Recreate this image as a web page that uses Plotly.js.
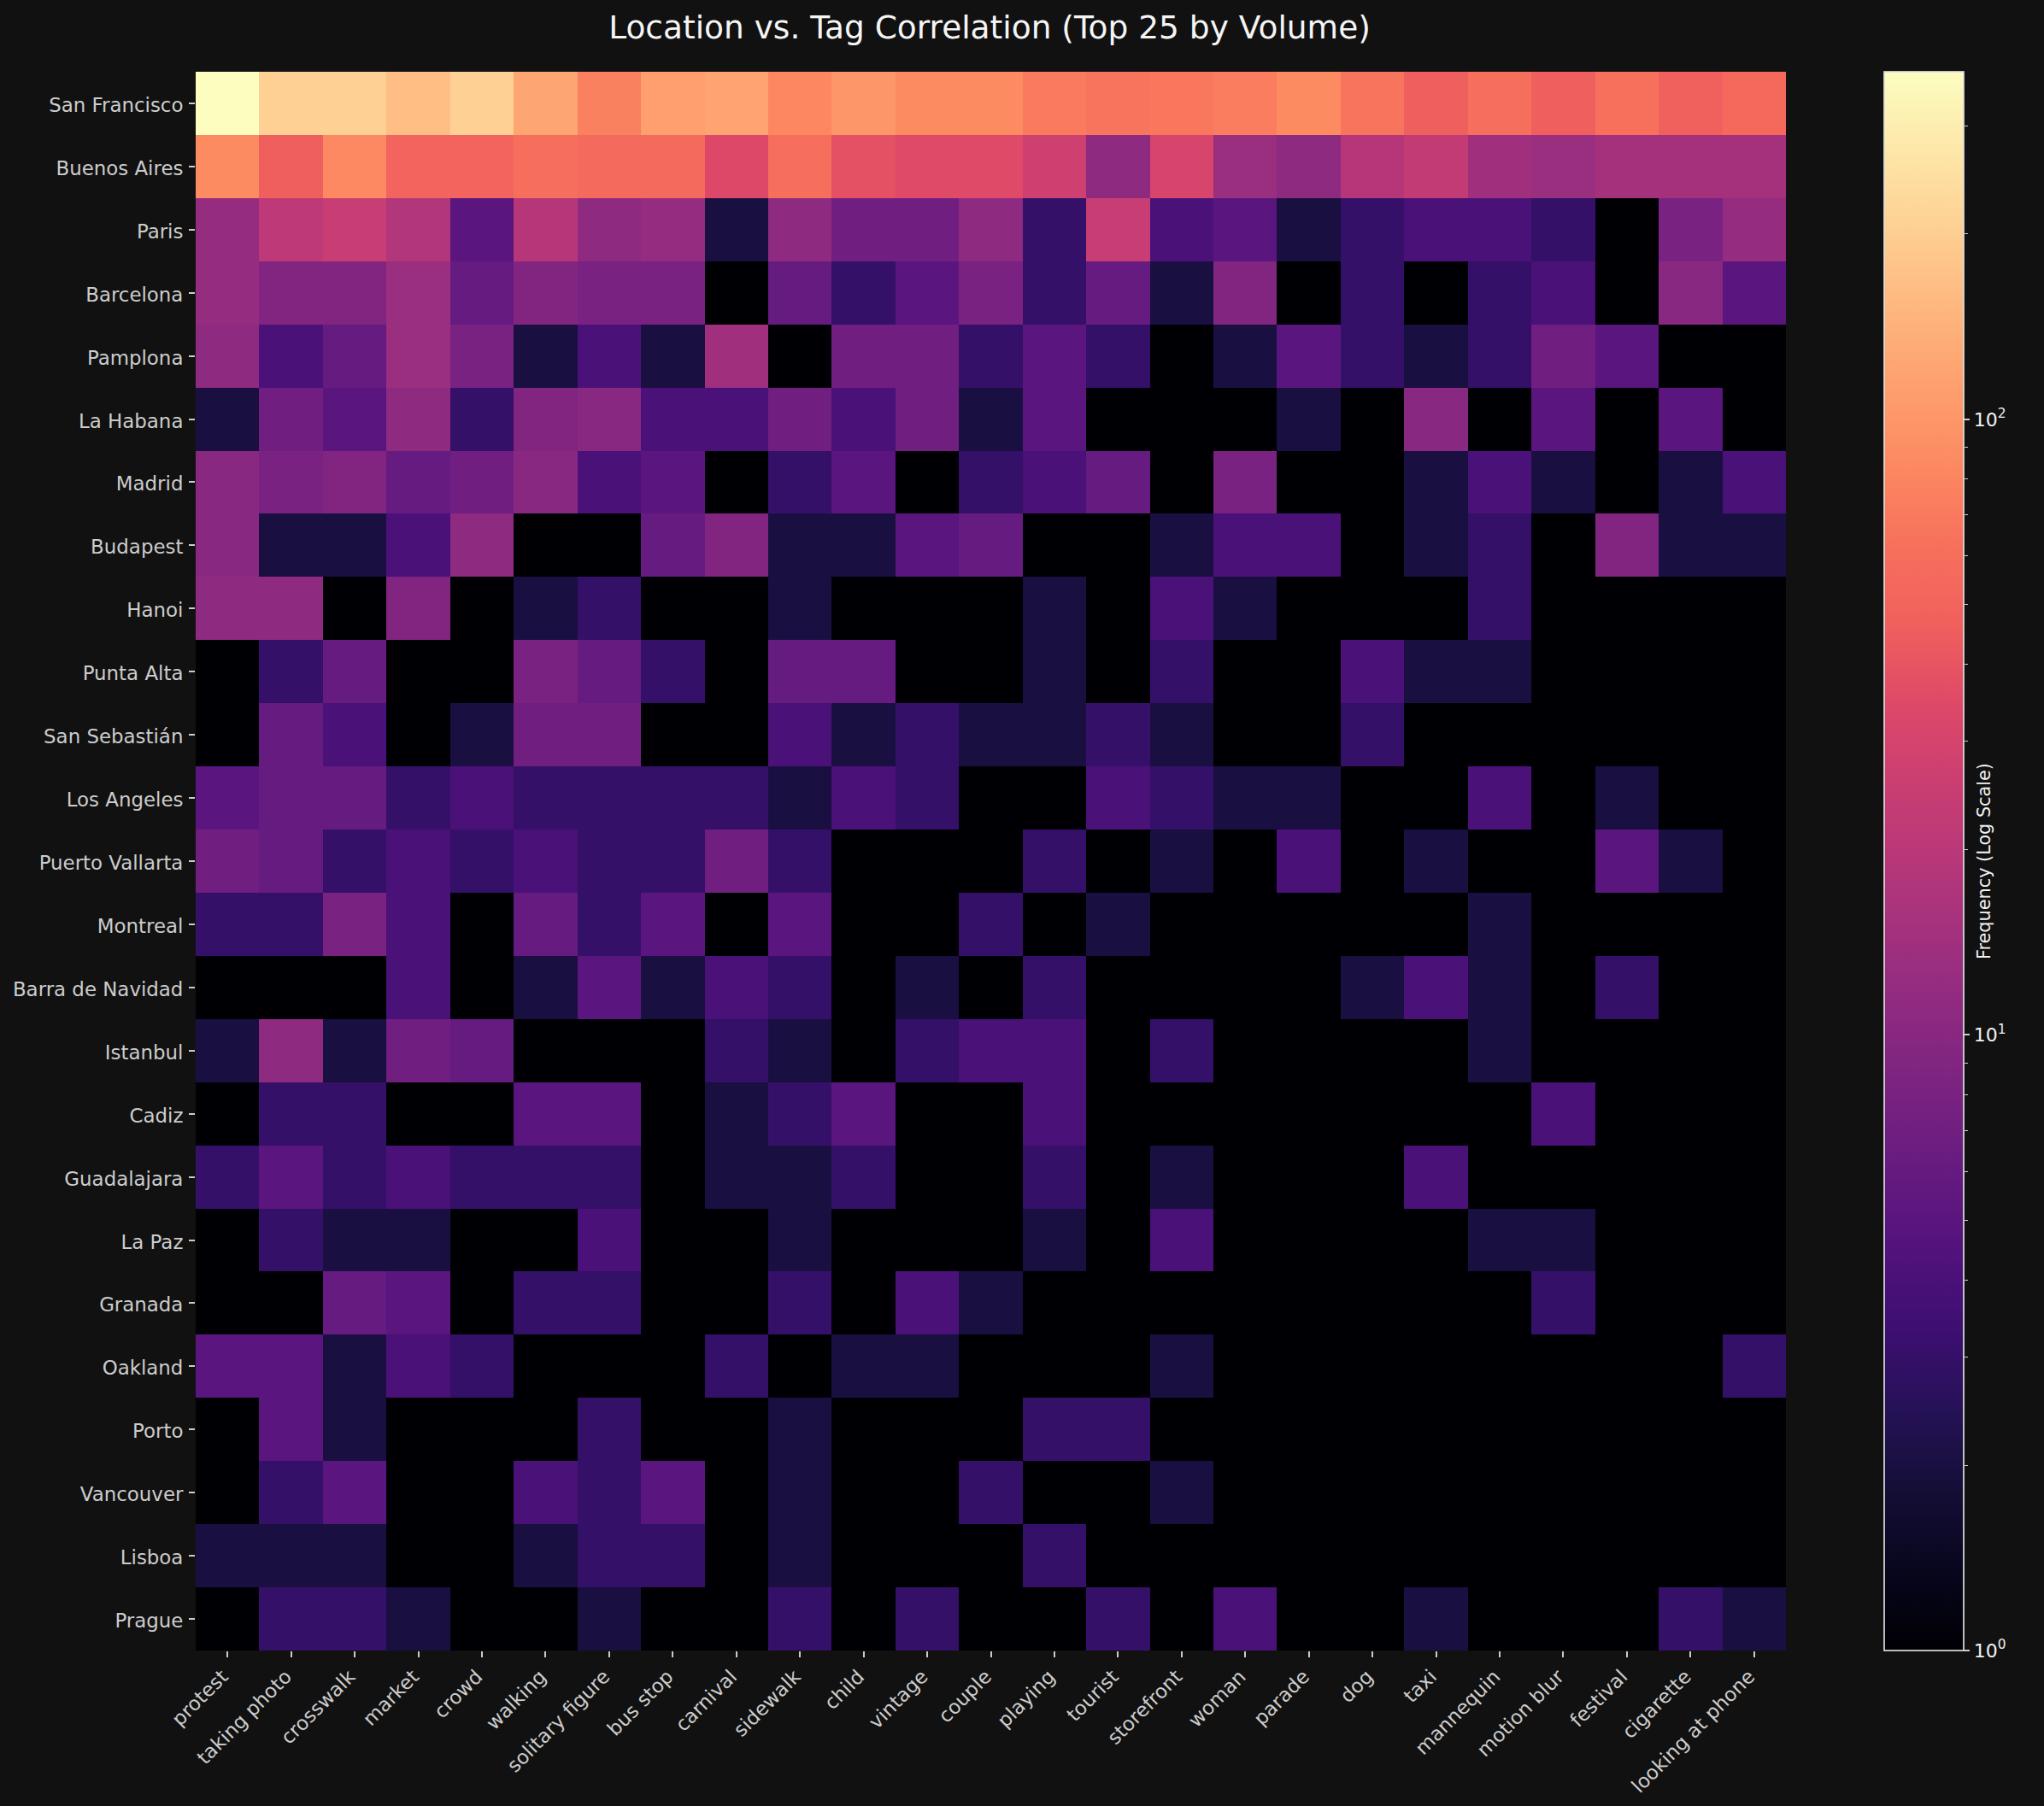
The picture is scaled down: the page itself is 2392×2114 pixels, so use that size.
<!DOCTYPE html>
<html>
<head>
<meta charset="utf-8">
<script src="https://cdn.plot.ly/plotly-3.0.1.min.js"></script>
<style>html,body{margin:0;padding:0;background:#111111;}#chart{width:2392px;height:2114px;}</style>
</head>
<body>
<div id="chart"></div>
<script>
const tags = ["protest","taking photo","crosswalk","market","crowd","walking","solitary figure","bus stop","carnival","sidewalk","child","vintage","couple","playing","tourist","storefront","woman","parade","dog","taxi","mannequin","motion blur","festival","cigarette","looking at phone"];
const locations = ["San Francisco","Buenos Aires","Paris","Barcelona","Pamplona","La Habana","Madrid","Budapest","Hanoi","Punta Alta","San Sebastián","Los Angeles","Puerto Vallarta","Montreal","Barra de Navidad","Istanbul","Cadiz","Guadalajara","La Paz","Granada","Oakland","Porto","Vancouver","Lisboa","Prague"];

const sanFrancisco   = [367,205,205,165,205,123,76,113,120,82,100,86,86,70,66,68,73,86,66,46,60,46,62,47,55];
const buenosAires    = [86,46,84,50,50,60,56,56,34,60,38,35,35,27,11,31,13,11,19,23,14,13,15,15,15];
const paris          = [12,21,25,18,5,19,11,12,2,11,7,7,11,3,25,4,5,2,3,4,4,3,1,8,12];
const barcelona      = [12,9,9,13,6,9,8,8,1,6,3,5,8,3,6,2,9,1,3,1,3,4,1,10,5];
const pamplona       = [11,4,6,13,8,2,4,2,14,1,7,7,3,5,3,1,2,5,3,2,3,7,5,1,1];
const laHabana       = [2,7,5,11,3,9,10,4,4,7,4,7,2,5,1,1,1,2,1,10,1,5,1,5,1];
const madrid         = [10,8,9,6,7,10,4,5,1,3,5,1,3,4,6,1,8,1,1,2,4,2,1,2,4];
const budapest       = [10,2,2,4,11,1,1,6,9,2,2,5,6,1,1,2,4,4,1,2,3,1,9,2,2];
const hanoi          = [11,11,1,9,1,2,3,1,1,2,1,1,1,2,1,4,2,1,1,1,3,1,1,1,1];
const puntaAlta      = [1,3,6,1,1,8,6,3,1,6,6,1,1,2,1,3,1,1,4,2,2,1,1,1,1];
const sanSebastian   = [1,6,4,1,2,7,7,1,1,4,2,3,2,2,3,2,1,1,3,1,1,1,1,1,1];
const losAngeles     = [5,6,6,3,4,3,3,3,3,2,4,3,1,1,4,3,2,2,1,1,4,1,2,1,1];
const puertoVallarta = [7,6,3,4,3,4,3,3,7,3,1,1,1,3,1,2,1,4,1,2,1,1,5,2,1];
const montreal       = [3,3,8,4,1,6,3,5,1,5,1,1,3,1,2,1,1,1,1,1,2,1,1,1,1];
const barraDeNavidad = [1,1,1,4,1,2,5,2,4,3,1,2,1,3,1,1,1,1,2,4,2,1,3,1,1];
const istanbul       = [2,11,2,7,6,1,1,1,3,2,1,3,4,4,1,3,1,1,1,1,2,1,1,1,1];
const cadiz          = [1,3,3,1,1,5,5,1,2,3,5,1,1,4,1,1,1,1,1,1,1,4,1,1,1];
const guadalajara    = [3,5,3,4,3,3,3,1,2,2,3,1,1,3,1,2,1,1,1,4,1,1,1,1,1];
const laPaz          = [1,3,2,2,1,1,4,1,1,2,1,1,1,2,1,4,1,1,1,1,2,2,1,1,1];
const granada        = [1,1,6,5,1,3,3,1,1,3,1,4,2,1,1,1,1,1,1,1,1,3,1,1,1];
const oakland        = [5,5,2,4,3,1,1,1,3,1,2,2,1,1,1,2,1,1,1,1,1,1,1,1,3];
const porto          = [1,5,2,1,1,1,3,1,1,2,1,1,1,3,3,1,1,1,1,1,1,1,1,1,1];
const vancouver      = [1,3,5,1,1,4,3,5,1,2,1,1,3,1,1,2,1,1,1,1,1,1,1,1,1];
const lisboa         = [2,2,2,1,1,2,3,3,1,2,1,1,1,3,1,1,1,1,1,1,1,1,1,1,1];
const prague         = [1,3,3,2,1,1,2,1,1,3,1,3,1,1,3,1,4,1,1,2,1,1,1,3,2];

const frequencyRows = [sanFrancisco,buenosAires,paris,barcelona,pamplona,laHabana,madrid,budapest,hanoi,puntaAlta,sanSebastian,losAngeles,puertoVallarta,montreal,barraDeNavidad,istanbul,cadiz,guadalajara,laPaz,granada,oakland,porto,vancouver,lisboa,prague];

const maxFrequency = 367;
const majorTicks = [1,10,100];
const majorTickLabels = ["10<sup>0</sup>","10<sup>1</sup>","10<sup>2</sup>"];
const minorTicks = [2,3,4,5,6,7,8,9,20,30,40,50,60,70,80,90,200,300];
const magma = ["#000004","#08061d","#140e36","#251255","#3b0f70","#51127c","#641a80","#782281","#8c2981","#a1307e","#b73779","#ca3e72","#de4968","#f0605d","#f7705c","#fc8961","#fe9f6d","#feb77e","#fecf92","#fde7a9","#fcfdbf"];

const W = 2392, H = 2114;
const L = 229, R = 2300, T = 84, B = 1932;
const plotRight = 2090, barLeft = 2205, barRight = 2298;
const paperW = R - L;

const traces = [
  {
    type: "heatmap",
    x: tags,
    y: locations,
    z: frequencyRows.map(r => r.map(v => Math.log10(v))),
    text: frequencyRows,
    hovertemplate: "%{y} / %{x}: %{text}<extra></extra>",
    zmin: 0,
    zmax: Math.log10(maxFrequency),
    colorscale: magma.map((c, i) => [i / (magma.length - 1), c]),
    xgap: 0, ygap: 0,
    colorbar: {
      x: (barLeft - L) / paperW, xref: "paper", xanchor: "left", xpad: 0,
      y: 0.5, yref: "paper", yanchor: "middle", ypad: 0,
      len: 1, lenmode: "fraction",
      thickness: barRight - barLeft, thicknessmode: "pixels",
      outlinecolor: "#dddddd", outlinewidth: 1.7, borderwidth: 0,
      tickmode: "array",
      tickvals: majorTicks.map(v => Math.log10(v)),
      ticktext: majorTickLabels,
      ticks: "outside", ticklen: 7, tickwidth: 1.7, tickcolor: "#cccccc",
      tickfont: {family: "DejaVu Sans", size: 22, color: "#f2f2f2"}
    }
  },
  {type: "scatter", x: [], y: [], yaxis: "y2", xaxis: "x", hoverinfo: "skip", showlegend: false}
];

const layout = {
  width: W, height: H,
  paper_bgcolor: "#111111", plot_bgcolor: "#111111",
  margin: {l: L, r: W - R, t: T, b: H - B, pad: 0},
  showlegend: false,
  font: {family: "DejaVu Sans", color: "#cccccc"},
  title: {
    text: "Location vs. Tag Correlation (Top 25 by Volume)",
    font: {family: "DejaVu Sans", size: 37.5, color: "#f5f5f5"},
    xref: "paper", x: (1158 - L) / paperW, xanchor: "center",
    yref: "container", y: 1 - 32 / H, yanchor: "middle"
  },
  xaxis: {
    domain: [0, (plotRight - L) / paperW],
    type: "category", tickangle: -45,
    ticks: "outside", ticklen: 7, tickwidth: 1.7, tickcolor: "#cccccc",
    ticklabelstandoff: 0, ticklabelshift: -6,
    tickfont: {family: "DejaVu Sans", size: 22.9, color: "#cccccc"},
    showgrid: false, zeroline: false, showline: false, automargin: false
  },
  yaxis: {
    type: "category", autorange: "reversed",
    ticks: "outside", ticklen: 7, tickwidth: 1.7, tickcolor: "#cccccc",
    ticklabelstandoff: 2, ticklabelshift: -2,
    tickfont: {family: "DejaVu Sans", size: 22.9, color: "#cccccc"},
    showgrid: false, zeroline: false, showline: false, automargin: false
  },
  yaxis2: {
    overlaying: "y", anchor: "free", side: "right",
    position: (barRight - L) / paperW,
    range: [0, Math.log10(maxFrequency)], type: "linear",
    tickmode: "array", tickvals: minorTicks.map(v => Math.log10(v)),
    showticklabels: false, ticks: "outside", ticklen: 4, tickwidth: 1.2, tickcolor: "#cccccc",
    showgrid: false, zeroline: false, showline: false
  },
  annotations: [{
    text: "Frequency (Log Scale)",
    xref: "paper", yref: "paper",
    x: (2322 - L) / paperW, y: 0.5, xanchor: "center", yanchor: "middle",
    textangle: -90, showarrow: false,
    font: {family: "DejaVu Sans", size: 20.8, color: "#f2f2f2"}
  }]
};

Plotly.newPlot("chart", traces, layout, {displayModeBar: false, responsive: false});
</script>
</body>
</html>
